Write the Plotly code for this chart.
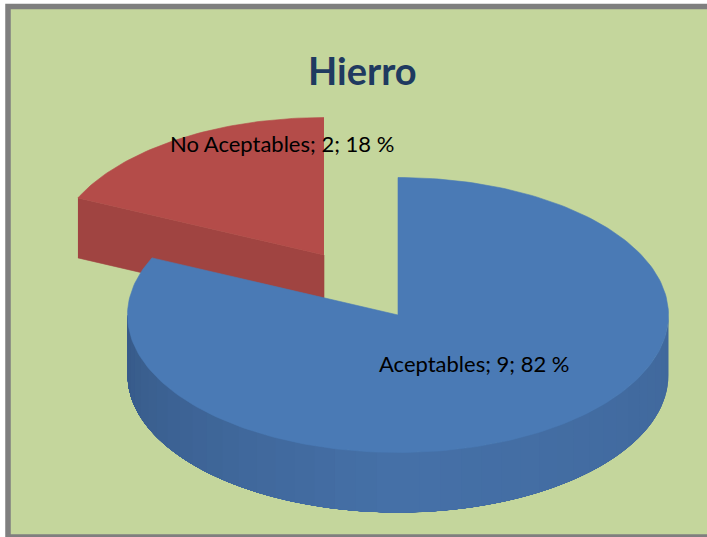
import numpy as np
import plotly.graph_objects as go

categories = ["Aceptables", "No Aceptables"]
values = [9, 2]
title_text = "Hierro"

W, H = 707, 537
RX, RY, DEPTH = 270.5, 137.5, 60
CENTERS = [(398, 315), (324, 255)]
TOP_COLORS = ["#4A7AB5", "#B44C49"]
WALL_STOPS = [[(0.0, (55, 90, 136)), (0.5, (70, 113, 168)), (1.0, (64, 104, 156))],
              [(0.0, (160, 68, 65)), (1.0, (160, 68, 65))]]

total = sum(values)
fractions = [v / total for v in values]
starts = [0.0, fractions[0]]


def ellipse(cx, cy, theta):
    return cx + RX * np.sin(theta), cy - RY * np.cos(theta)


def wall_color(stops, t):
    ts = [s[0] for s in stops]
    rgb = [np.interp(t, ts, [s[1][i] for s in stops]) for i in range(3)]
    return "rgb(%d,%d,%d)" % tuple(int(c) for c in rgb)


def poly(x, y, color, width=0.6):
    return go.Scatter(x=list(x), y=list(y), mode="lines", fill="toself", fillcolor=color,
                      line=dict(color=color, width=width), hoverinfo="skip", showlegend=False)


fig = go.Figure()

# No Aceptables: exploded slice is painted first, Aceptables overlaps it
cx, cy = CENTERS[1]
a0 = 2 * np.pi * starts[1]
a1 = 2 * np.pi
ex, ey = ellipse(cx, cy, a0)
fig.add_trace(poly([ex, cx, cx, ex], [ey, cy, cy + DEPTH, ey + DEPTH], wall_color(WALL_STOPS[1], 0.5)))
th = np.linspace(a0, a1, 60)
x, y = ellipse(cx, cy, th)
fig.add_trace(poly(np.r_[cx, x], np.r_[cy, y], TOP_COLORS[1]))

# Aceptables: wall (visible lower half of the rim) painted from one side to the other;
# each band reaches the far end so that no seams show between the bands
cx, cy = CENTERS[0]
edges = np.linspace(np.pi / 2, 3 * np.pi / 2, 41)
for i in range(40):
    seg = np.linspace(edges[i], edges[-1], 80)
    x, y = ellipse(cx, cy, seg)
    t = 1 - (i + 0.5) / 40
    fig.add_trace(poly(np.r_[x, x[::-1]], np.r_[y, (y + DEPTH)[::-1]], wall_color(WALL_STOPS[0], t), width=0))
th = np.linspace(0, 2 * np.pi * fractions[0], 240)
x, y = ellipse(cx, cy, th)
fig.add_trace(poly(np.r_[cx, x, cx], np.r_[cy, y, cy], TOP_COLORS[0]))

labels = [f"{c}; {v}; {round(f * 100)} %" for c, v, f in zip(categories, values, fractions)]
label_pos = [(474, 363), (281.5, 143)]
annotations = [dict(x=px, y=py, xref="x", yref="y", text=t, showarrow=False, xanchor="center",
                    yanchor="middle", font=dict(family="Lato, Carlito, sans-serif", size=22, color="#000000"))
               for t, (px, py) in zip(labels, label_pos)]
annotations.append(dict(x=362, y=70, xref="x", yref="y", text=f"<b>{title_text}</b>", showarrow=False,
                        xanchor="center", yanchor="middle",
                        font=dict(family="Lato, Carlito, sans-serif", size=38, color="#1F3A60")))

fig.update_layout(
    width=W, height=H, margin=dict(l=0, r=0, t=0, b=0), autosize=False,
    paper_bgcolor="#FFFFFF", plot_bgcolor="#FFFFFF", showlegend=False,
    xaxis=dict(range=[0, W], visible=False, fixedrange=True),
    yaxis=dict(range=[H, 0], visible=False, fixedrange=True),
    annotations=annotations,
    shapes=[dict(type="rect", xref="x", yref="y", x0=8, y0=6.5, x1=725, y1=537, layer="below",
                 line=dict(color="#7F7F7F", width=5.5), fillcolor="#C4D69C")],
)
fig.write_html("out.html", config={"displayModeBar": False},
               post_script="document.body.style.margin='0';document.body.style.overflow='hidden';")
